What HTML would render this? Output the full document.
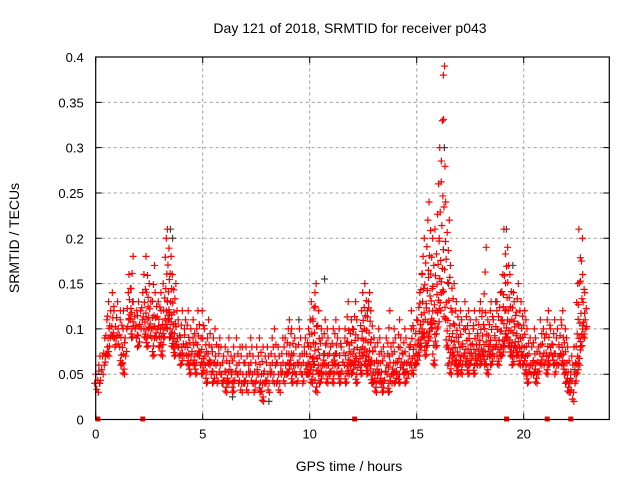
<!DOCTYPE html>
<html><head><meta charset="utf-8">
<style>
body{margin:0;background:#fff;}
svg{display:block;font-family:"Liberation Sans",sans-serif;}
</style></head>
<body>
<svg id="chart" width="640" height="480" viewBox="0 0 640 480" xmlns="http://www.w3.org/2000/svg">
<rect width="640" height="480" fill="#fff"/>
<text x="350" y="33" font-size="14" text-anchor="middle" fill="#000">Day 121 of 2018, SRMTID for receiver p043</text>
<text x="349" y="471" font-size="14" text-anchor="middle" fill="#000">GPS time / hours</text>
<text x="19" y="238" font-size="14" text-anchor="middle" fill="#000" transform="rotate(-90 19 238)">SRMTID / TECUs</text>
<g id="grid"></g>
<g id="marks"></g>
<g id="axes"></g>
</svg>
<script>
const xTicks=[0,5,10,15,20];
const yTicks=[0,0.05,0.1,0.15,0.2,0.25,0.3,0.35,0.4];
const yTickLabels=["0","0.05","0.1","0.15","0.2","0.25","0.3","0.35","0.4"];
const tStep=0.1;
const redHigh=[.05,.06,.07,.07,.09,.11,.13,.12,.14,.12,
.13,.11,.12,.10,.09,.14,.16,.18,.13,.12,
.13,.12,.14,.16,.18,.15,.13,.17,.14,.13,
.14,.12,.15,.20,.21,.18,.16,.15,.12,.11,
.12,.10,.11,.12,.10,.09,.11,.10,.12,.09,
.12,.10,.09,.11,.08,.09,.10,.08,.09,.08,
.07,.08,.09,.07,.08,.07,.09,.08,.07,.08,
.08,.07,.09,.08,.07,.08,.07,.09,.08,.07,
.08,.07,.09,.08,.10,.08,.07,.09,.08,.09,
.10,.11,.10,.09,.08,.10,.09,.08,.09,.10,
.11,.13,.14,.15,.12,.10,.09,.11,.10,.09,
.08,.10,.11,.09,.10,.08,.09,.10,.13,.11,
.10,.13,.11,.09,.12,.14,.15,.13,.14,.12,
.09,.08,.10,.09,.08,.07,.09,.12,.08,.10,
.09,.08,.11,.09,.10,.09,.08,.10,.12,.10,
.11,.14,.16,.18,.20,.22,.24,.20,.17,.21,
.26,.30,.38,.39,.24,.22,.17,.15,.12,.13,
.12,.11,.10,.13,.12,.11,.10,.12,.11,.12,
.13,.12,.19,.11,.12,.13,.11,.12,.13,.14,
.16,.21,.19,.17,.16,.14,.13,.15,.12,.13,
.12,.11,.10,.09,.08,.10,.09,.08,.11,.10,
.09,.11,.12,.10,.11,.09,.10,.11,.12,.10,
.09,.08,.07,.06,.08,.15,.21,.20,.16,.14];
const redLow=[.04,.03,.04,.05,.06,.07,.07,.09,.09,.08,
.09,.08,.06,.05,.07,.10,.11,.09,.10,.09,
.08,.10,.11,.09,.08,.10,.09,.07,.09,.10,
.08,.07,.09,.10,.11,.09,.08,.07,.08,.07,
.06,.07,.08,.06,.05,.07,.06,.05,.07,.06,
.05,.06,.04,.06,.05,.04,.06,.04,.05,.04,
.04,.03,.04,.05,.03,.04,.05,.04,.03,.04,
.04,.03,.05,.04,.03,.04,.05,.03,.02,.04,
.04,.03,.05,.04,.06,.04,.03,.05,.04,.05,
.05,.06,.04,.05,.04,.06,.05,.04,.05,.05,
.05,.04,.06,.03,.05,.04,.05,.06,.04,.05,
.05,.04,.06,.05,.04,.05,.06,.04,.05,.06,
.05,.06,.04,.06,.05,.07,.06,.05,.06,.04,
.04,.03,.05,.04,.03,.04,.05,.03,.04,.05,
.04,.05,.04,.06,.05,.04,.05,.06,.05,.06,
.06,.07,.08,.09,.07,.08,.09,.10,.06,.08,
.10,.12,.14,.11,.08,.06,.05,.07,.06,.05,
.06,.05,.07,.06,.05,.06,.07,.05,.06,.07,
.06,.07,.06,.05,.07,.06,.07,.08,.06,.07,
.07,.08,.09,.08,.07,.06,.08,.07,.06,.07,
.06,.05,.04,.05,.06,.05,.04,.05,.06,.07,
.06,.05,.06,.07,.06,.05,.06,.07,.06,.05,
.04,.03,.03,.02,.04,.05,.06,.08,.09,.10];
const grayTimes=[0.1,1.2,3.4,3.5,6.3,8.0,9.4,10.6,12.6,14.6,16.2,16.4,18.6,19.1,19.4,22.1,22.3];
const grayValues=[0.04,0.12,0.21,0.20,0.025,0.02,0.11,0.155,0.12,0.08,0.30,0.15,0.13,0.21,0.17,0.045,0.055];
const gapTimes=[0.1,2.2,12.1,19.2,21.1,22.2];

const X0=95.7,X1=609.3,Y0=419.5,Y1=57,XMAX=24,YMAX=0.4;
const xs=v=>X0+(X1-X0)*v/XMAX;
const ys=v=>Y0-(Y0-Y1)*v/YMAX;
const NS="http://www.w3.org/2000/svg";
function mk(tag,attrs,parent){const e=document.createElementNS(NS,tag);for(const k in attrs)e.setAttribute(k,attrs[k]);parent.appendChild(e);return e;}
const grid=document.getElementById('grid'),marks=document.getElementById('marks'),axes=document.getElementById('axes');

xTicks.forEach(t=>{ if(t>0){const l=mk('line',{x1:xs(t),x2:xs(t),y1:Y0,y2:Y1,stroke:'#a0a0a0','stroke-dasharray':'3,3'},grid);

}});
yTicks.forEach(t=>{ if(t>0&&t<YMAX){const l=mk('line',{x1:X0,x2:X1,y1:ys(t),y2:ys(t),stroke:'#a0a0a0','stroke-dasharray':'3,3'},grid);

}});

function plus(x,y,color,name){
  const p=mk('path',{d:`M${x-3.5},${y}h7M${x},${y-3.5}v7`,stroke:color,'stroke-width':1.2,fill:'none'},marks);
  
  
}
grayTimes.forEach((t,i)=>plus(xs(t)+2,ys(grayValues[i]),'#404040','gray-point'));
redHigh.forEach((hi,i)=>{
  const lo=redLow[i];const t=i*tStep;
  const n=Math.min(9,Math.max(1,Math.round((hi-lo)/0.009)));
  for(let k=0;k<=n;k++){
    const f=k/n;
    const v=lo+(hi-lo)*f*f*(k===n?1:1);
    const jitter=((k*7+i*3)%5-2)*0.5;
    plus(xs(t)+jitter,ys(v),'#ff0000','red-point');
  }
});
gapTimes.forEach(t=>{const r=mk('rect',{x:xs(t)-2.5,y:Y0-3,width:5,height:5,fill:'#ff0000'},marks);

});

const frame=mk('rect',{x:X0,y:Y1,width:X1-X0,height:Y0-Y1,fill:'none',stroke:'#000','stroke-width':1.2},axes);


xTicks.forEach(t=>{
  mk('path',{d:`M${xs(t)},${Y0}v-6M${xs(t)},${Y1}v6`,stroke:'#000'},axes);
  const tx=mk('text',{x:xs(t),y:Y0+19,'font-size':13,'text-anchor':'middle',fill:'#000'},axes);
  tx.textContent=String(t);
  
  
});
yTicks.forEach((t,i)=>{
  mk('path',{d:`M${X0},${ys(t)}h6M${X1},${ys(t)}h-6`,stroke:'#000'},axes);
  const tx=mk('text',{x:X0-12,y:ys(t)+5,'font-size':13,'text-anchor':'end',fill:'#000'},axes);
  tx.textContent=yTickLabels[i];
  
  
});
</script>
</body></html>
